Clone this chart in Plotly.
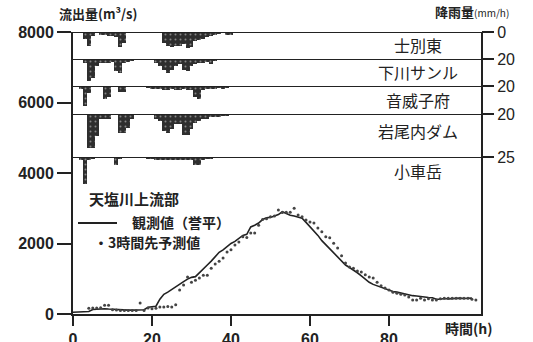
import plotly.graph_objects as go

# ---------------- data ----------------
obs_hours = list(range(0, 102))
obs_flow = [50, 50, 50, 60, 70, 130, 140, 150, 150, 140,
            130, 120, 120, 110, 110, 110, 110, 110, 120, 190,
            200, 220, 420, 560, 620, 700, 780, 860, 920, 990,
            1040, 1060, 1180, 1300, 1390, 1500, 1620, 1750, 1820, 1920,
            2000, 2060, 2150, 2230, 2260, 2470, 2520, 2580, 2680, 2730,
            2740, 2780, 2820, 2900, 2840, 2800, 2780, 2760, 2720, 2600,
            2480, 2370, 2230, 2080, 1960, 1850, 1720, 1600, 1480, 1390,
            1320, 1250, 1170, 1080, 980, 900, 840, 800, 750, 710,
            680, 640, 620, 590, 570, 550, 520, 510, 490, 480,
            470, 460, 420, 420, 440, 430, 440, 440, 450, 440,
            450, 450]

pred_hours = list(range(4, 103))
pred_flow = [160, 170, 170, 180, 250, 250, 120, 110, 100, 100,
             100, 100, 100, 310, 100, 170, 150, 160, 200, 200,
             210, 200, 260, 680, 820, 1050, 900, 960, 1020, 1100,
             1100, 1300, 1420, 1500, 1590, 1760, 1820, 1960, 2040, 2190,
             2170, 2300, 2300, 2520, 2680, 2700, 2760, 2780, 2950, 2880,
             2890, 2890, 3000, 2810, 2760, 2670, 2610, 2580, 2440, 2330,
             2190, 2160, 2010, 1870, 1650, 1450, 1330, 1300, 1220, 1190,
             1110, 1050, 1020, 900, 800, 740, 680, 620, 590, 560,
             540, 480, 400, 400, 450, 400, 430, 400, 400, 430,
             450, 450, 450, 450, 450, 450, 450, 420, 400]

rain_hours = list(range(0, 42))
rain_shibetsu = [0, 0, 0, 5, 10, 3, 0, 2, 2, 3, 3, 4, 11, 8, 0, 0, 0, 0, 0, 0,
                 0, 0, 0, 8, 10, 11, 10, 10, 9, 12, 11, 7, 6, 5, 4, 3, 2, 1, 0, 2, 2, 0]
rain_shimokawa = [0, 0, 0, 3, 16, 14, 5, 3, 3, 3, 2, 9, 10, 3, 2, 1, 0, 0, 0, 0,
                  0, 3, 5, 8, 10, 8, 5, 4, 8, 9, 5, 4, 3, 3, 2, 4, 1, 0, 0, 0, 0, 0]
rain_otoineppu = [0, 0, 2, 14, 5, 0, 0, 0, 9, 8, 0, 0, 4, 4, 0, 0, 0, 0, 0, 1,
                  2, 2, 2, 3, 3, 2, 3, 3, 2, 3, 3, 8, 9, 3, 2, 2, 2, 1, 2, 1, 0, 0]
rain_iwaonai = [0, 0, 0, 0, 20, 20, 13, 3, 3, 3, 0, 0, 11, 11, 8, 3, 0, 0, 0, 0,
                0, 3, 4, 10, 11, 9, 6, 6, 12, 12, 9, 5, 4, 3, 3, 2, 2, 2, 1, 1, 0, 0]
rain_kogurumadake = [0, 0, 2, 17, 2, 1, 0, 0, 0, 0, 0, 5, 1, 0, 0, 0, 0, 0, 0, 1,
                     1, 2, 2, 2, 2, 2, 2, 2, 2, 2, 2, 5, 5, 2, 1, 1, 0, 0, 0, 0, 0, 0]

stations = ["士別東", "下川サンル", "音威子府", "岩尾内ダム", "小車岳"]
rain_series = [rain_shibetsu, rain_shimokawa, rain_otoineppu, rain_iwaonai, rain_kogurumadake]
rain_max = [20, 20, 20, 25, 25]
rain_ticks = [[0, 20], [20], [20], [25], []]

flow_ticks = [0, 2000, 4000, 6000, 8000]
time_ticks = [0, 20, 40, 60, 80]

# ---------------- layout constants ----------------
W, H = 533, 342
ML, MR, MT, MB = 73, 52, 32, 28
PW, PH = W - ML - MR, H - MT - MB


def py(p):  # pixel y -> paper y
    return (H - MB - p) / PH


def px(p):  # pixel x -> paper x
    return (p - ML) / PW


panel_px = [32, 59, 86, 114, 157, 197]
domains = [[py(panel_px[i + 1]), py(panel_px[i])] for i in range(5)]
label_px = [45, 72, 100, 131, 171]

INK = "#222222"
CJK = "Noto Sans CJK JP"
NUM = "Liberation Sans"

fig = go.Figure()

# rainfall bars
for i, (name, vals) in enumerate(zip(stations, rain_series)):
    fig.add_trace(go.Bar(
        x=rain_hours, y=vals, width=1, yaxis=f"y{i + 2}", xaxis="x",
        marker=dict(color="#2e2e2e", line=dict(width=0),
                    pattern=dict(shape=".", fgcolor="#dddddd", size=5, solidity=0.12)),
        showlegend=False, name=name,
    ))

# hydrograph
fig.add_trace(go.Scatter(x=obs_hours, y=obs_flow, mode="lines",
                         line=dict(color=INK, width=1.6), name="観測値（誉平）",
                         showlegend=False))
fig.add_trace(go.Scatter(x=pred_hours, y=pred_flow, mode="markers",
                         marker=dict(color="#444444", size=3), name="3時間先予測値",
                         showlegend=False))

layout = dict(
    width=W, height=H, margin=dict(l=ML, r=MR, t=MT, b=MB, autoexpand=False),
    paper_bgcolor="white", plot_bgcolor="white",
    bargap=0, barmode="overlay",
    xaxis=dict(range=[0, 103.3], tickvals=time_ticks, showgrid=False, zeroline=False,
               automargin=False,
               showline=True, linecolor=INK, linewidth=2, ticks="outside", ticklen=10,
               tickwidth=2, tickcolor=INK,
               tickfont=dict(family=NUM, size=16, color=INK, weight="bold")),
    yaxis=dict(range=[0, 8000], tickvals=flow_ticks, showgrid=False, zeroline=False,
               automargin=False,
               showline=True, mirror=True, linecolor=INK, linewidth=2, ticks="outside",
               ticklen=14, tickwidth=2, tickcolor=INK,
               tickfont=dict(family=NUM, size=16, color=INK, weight="bold")),
)
shapes = []
for i in range(5):
    layout[f"yaxis{i + 2}"] = dict(
        domain=domains[i], range=[rain_max[i], 0], anchor="x", side="right",
        tickvals=rain_ticks[i], ticktext=[str(v) for v in rain_ticks[i]],
        automargin=False,
        showgrid=False, zeroline=False, showline=False, ticks="outside", ticklen=12,
        tickwidth=2, tickcolor=INK, tickfont=dict(family=NUM, size=16, color=INK),
    )
    shapes.append(dict(type="line", xref="paper", x0=0, x1=1, yref=f"y{i + 2}",
                       y0=0, y1=0, line=dict(color=INK, width=2)))

# legend key line
shapes.append(dict(type="line", xref="paper", yref="paper", x0=px(78), x1=px(117),
                   y0=py(223), y1=py(223), line=dict(color=INK, width=2)))
layout["shapes"] = shapes


def note(text, x, y, size, xanchor="left"):
    return dict(text=text, xref="paper", yref="paper", x=px(x), y=py(y),
                xanchor=xanchor, yanchor="middle", showarrow=False,
                font=dict(family=CJK, size=size, color=INK))


ann = [note(name, 418, lp, 16, "center") for name, lp in zip(stations, label_px)]
ann += [
    note("<b>流出量(m³/s)</b>", 57, 13, 13),
    note("<b>降雨量</b><span style='font-size:10px'>(mm/h)</span>", 433, 12, 13),
    note("<b>天塩川上流部</b>", 87, 198, 15),
    note("<b>観測値（誉平）</b>", 130, 222, 14),
    note("<b>・3時間先予測値</b>", 92, 242, 14),
    note("<b>時間(h)</b>", 443, 328, 14),
]
layout["annotations"] = ann

fig.update_layout(**layout)
fig.write_html("out.html")
